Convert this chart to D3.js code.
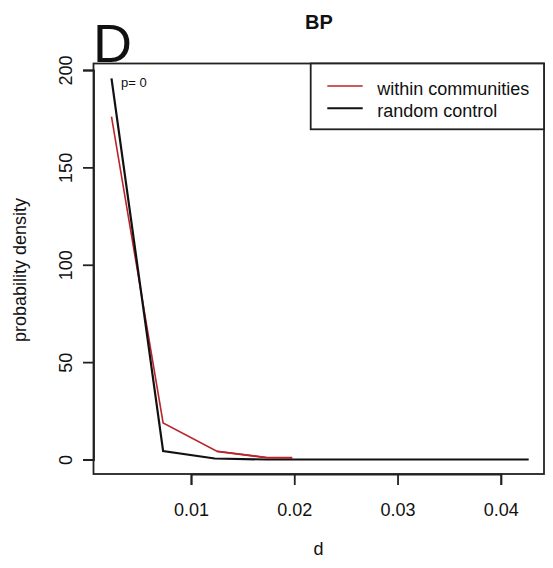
<!DOCTYPE html>
<html>
<head>
<meta charset="utf-8">
<script src="https://cdn.jsdelivr.net/npm/d3@7"></script>
<style>
  html, body { margin: 0; padding: 0; background: #fff; }
  svg { display: block; }
  text { font-family: "Liberation Sans", Arial, Helvetica, sans-serif; fill: #111; }
</style>
</head>
<body>
<svg id="chart" width="553" height="568"></svg>
<script>
// ---- data ----
const seriesNames = ["within communities", "random control"];
const seriesColors = ["#b8262b", "#111111"];
const withinD = [0.0023, 0.0073, 0.0125, 0.0173, 0.0198];
const withinV = [176, 18.8, 4.2, 1.0, 0.9];
const randomD = [0.0023, 0.0073, 0.0123, 0.0173, 0.0223, 0.0273, 0.0323, 0.0373, 0.0427];
const randomV = [195.7, 4.3, 0.5, 0, 0, 0, 0, 0, 0];
const xTicks = [0.01, 0.02, 0.03, 0.04];
const yTicks = [0, 50, 100, 150, 200];
const title = "BP";
const panelLetter = "D";
const pLabel = "p= 0";
const xLabel = "d";
const yLabel = "probability density";

// ---- layout ----
const svg = d3.select("#chart");
const box = { left: 93.5, right: 544, top: 63.5, bottom: 474 };
const x = d3.scaleLinear().domain([0.01, 0.04]).range([191, 500.8]);
const y = d3.scaleLinear().domain([0, 200]).range([459.5, 70]);

// plot box
svg.append("rect")
  .attr("x", box.left).attr("y", box.top)
  .attr("width", box.right - box.left).attr("height", box.bottom - box.top)
  .attr("fill", "none").attr("stroke", "#222").attr("stroke-width", 1.8);

// x axis
const xAxis = svg.append("g")
  .attr("transform", `translate(0,${box.bottom})`)
  .call(d3.axisBottom(x).tickValues(xTicks).tickSize(11).tickPadding(18)
        .tickFormat(d3.format(".2f")));
xAxis.select(".domain").attr("stroke", "#222").attr("stroke-width", 1.8);
xAxis.selectAll(".tick line").attr("stroke", "#222").attr("stroke-width", 1.8);
xAxis.selectAll(".tick text").attr("font-size", 18).attr("fill", "#222")
  .style("font-family", '"Liberation Sans", Arial, sans-serif');

// y axis
const yAxis = svg.append("g")
  .attr("transform", `translate(${box.left},0)`)
  .call(d3.axisLeft(y).tickValues(yTicks).tickSize(10.5).tickFormat(d3.format("d")));
yAxis.select(".domain").attr("stroke", "#222").attr("stroke-width", 1.8);
yAxis.selectAll(".tick line").attr("stroke", "#222").attr("stroke-width", 1.8);
yAxis.selectAll(".tick text")
  .attr("font-size", 18).attr("fill", "#222")
  .style("font-family", '"Liberation Sans", Arial, sans-serif')
  .attr("x", null).attr("dy", null)
  .attr("text-anchor", "middle")
  .attr("transform", "translate(-22,0) rotate(-90)");

// lines
const line = d3.line().x(d => x(d[0])).y(d => y(d[1]));
const withinPts = withinD.map((d, i) => [d, withinV[i]]);
const randomPts = randomD.map((d, i) => [d, randomV[i]]);

svg.append("path").datum(withinPts)
  .attr("d", line).attr("fill", "none")
  .attr("stroke", seriesColors[0]).attr("stroke-width", 1.6);
svg.append("path").datum(randomPts)
  .attr("d", line).attr("fill", "none")
  .attr("stroke", seriesColors[1]).attr("stroke-width", 2.2);
// redraw red tail on top (appears over black near zero)
svg.append("path").datum(withinPts.slice(2))
  .attr("d", line).attr("fill", "none")
  .attr("stroke", seriesColors[0]).attr("stroke-width", 1.8);

// p label
svg.append("text").attr("x", 121).attr("y", 87)
  .attr("font-size", 13).text(pLabel);

// legend
const lg = { left: 310.7, top: 63.5, right: 544, bottom: 129.3 };
svg.append("rect")
  .attr("x", lg.left).attr("y", lg.top)
  .attr("width", lg.right - lg.left).attr("height", lg.bottom - lg.top)
  .attr("fill", "#fff").attr("stroke", "#222").attr("stroke-width", 1.8);
const legRows = [86, 108.3];
seriesNames.forEach((name, i) => {
  svg.append("line")
    .attr("x1", 327.3).attr("x2", 362.7)
    .attr("y1", legRows[i]).attr("y2", legRows[i])
    .attr("stroke", seriesColors[i]).attr("stroke-width", i === 0 ? 1.6 : 2);
  svg.append("text").attr("x", 377.3).attr("y", legRows[i] + 8.5)
    .attr("font-size", 18).attr("fill", "#222").text(name);
});

// titles
svg.append("text").attr("x", 319).attr("y", 28.5)
  .attr("text-anchor", "middle").attr("font-size", 20).attr("font-weight", "bold")
  .text(title);
svg.append("text").attr("x", 93).attr("y", 62)
  .attr("font-size", 54).attr("fill", "#000").text(panelLetter);
svg.append("text").attr("x", 318.5).attr("y", 555)
  .attr("text-anchor", "middle").attr("font-size", 18).attr("fill", "#222").text(xLabel);
svg.append("text")
  .attr("transform", "translate(26,270) rotate(-90)")
  .attr("text-anchor", "middle").attr("font-size", 18).attr("fill", "#222").text(yLabel);
</script>
</body>
</html>
